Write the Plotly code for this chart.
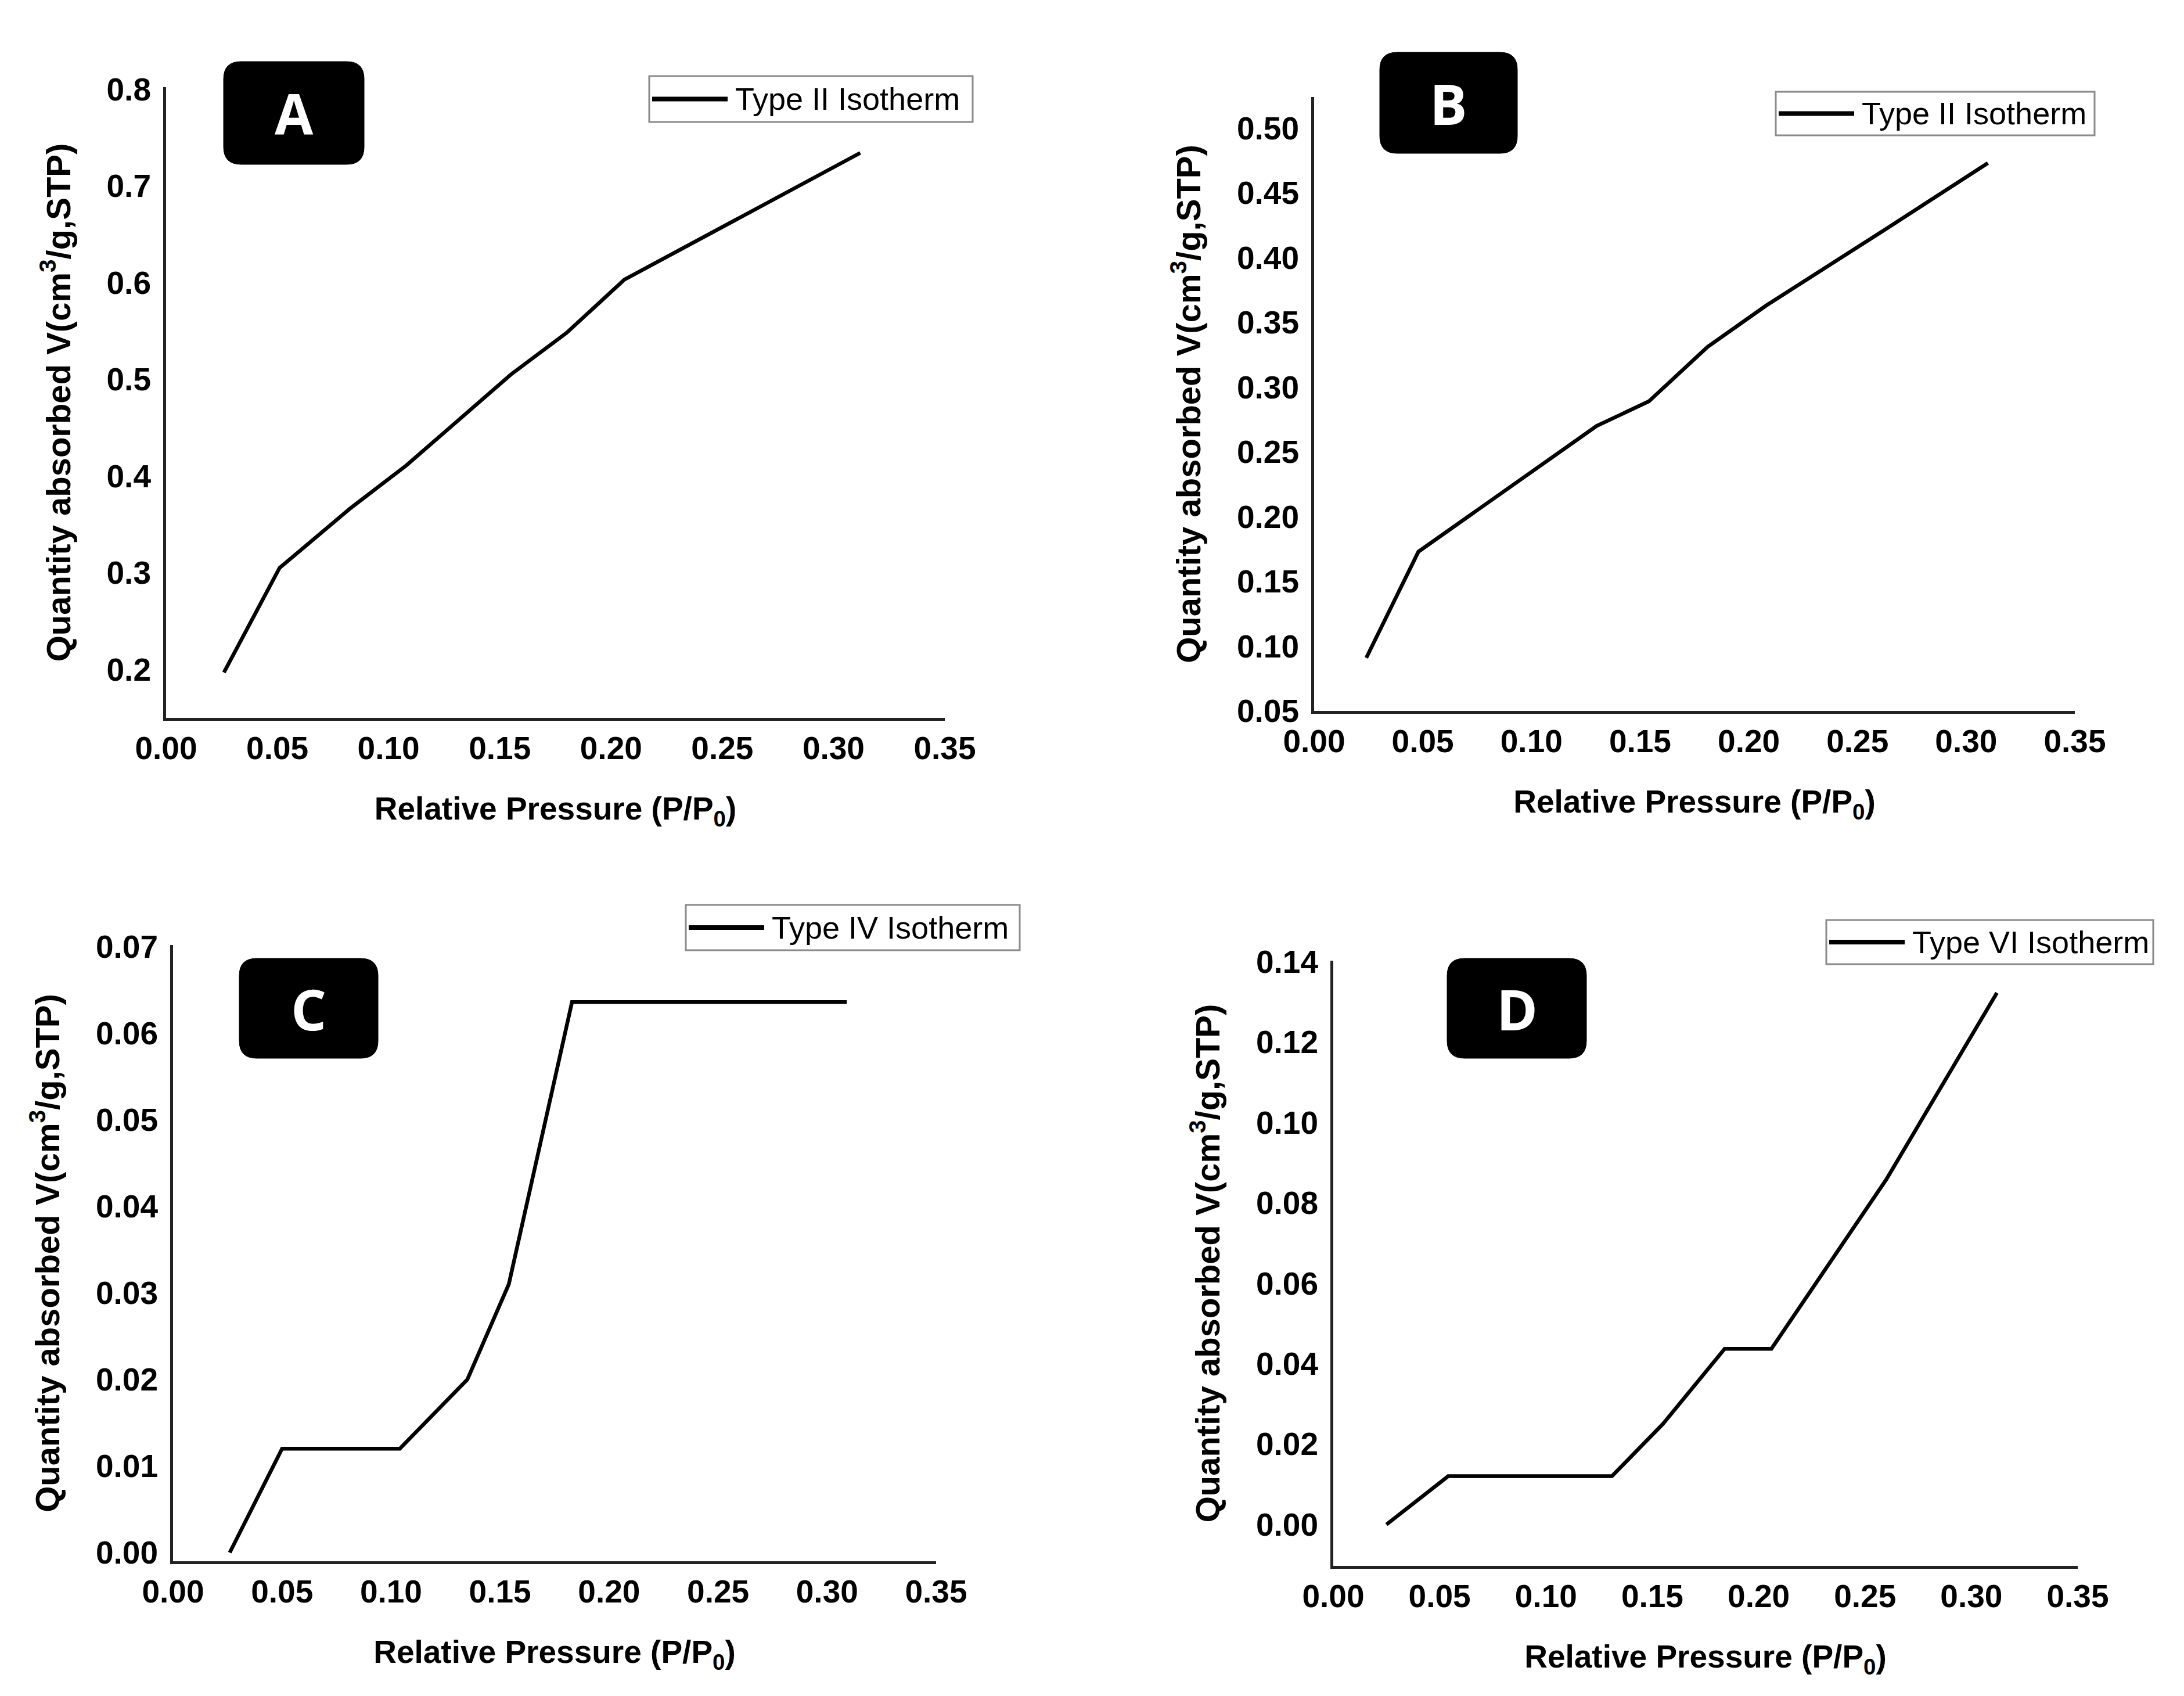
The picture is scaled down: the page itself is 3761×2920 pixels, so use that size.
import plotly.graph_objects as go

# ---------------- data ----------------
x_ticks = [0.00, 0.05, 0.10, 0.15, 0.20, 0.25, 0.30, 0.35]

a_x = [0.026, 0.051, 0.083, 0.108, 0.155, 0.180, 0.206, 0.264, 0.312]
a_y = [0.197, 0.305, 0.367, 0.411, 0.505, 0.548, 0.603, 0.675, 0.734]
a_name = "Type II Isotherm"

b_x = [0.024, 0.048, 0.130, 0.154, 0.181, 0.208, 0.263, 0.310]
b_y = [0.091, 0.173, 0.270, 0.289, 0.331, 0.363, 0.422, 0.473]
b_name = "Type II Isotherm"

c_x = [0.026, 0.050, 0.104, 0.135, 0.154, 0.183, 0.309]
c_y = [0.000, 0.012, 0.012, 0.020, 0.031, 0.0636, 0.0636]
c_name = "Type IV Isotherm"

d_x = [0.025, 0.054, 0.131, 0.155, 0.184, 0.206, 0.260, 0.312]
d_y = [0.000, 0.012, 0.012, 0.025, 0.0437, 0.0437, 0.0858, 0.1322]
d_name = "Type VI Isotherm"

a_yticks = [0.2, 0.3, 0.4, 0.5, 0.6, 0.7, 0.8]
b_yticks = [0.05, 0.10, 0.15, 0.20, 0.25, 0.30, 0.35, 0.40, 0.45, 0.50]
c_yticks = [0.00, 0.01, 0.02, 0.03, 0.04, 0.05, 0.06, 0.07]
d_yticks = [0.00, 0.02, 0.04, 0.06, 0.08, 0.10, 0.12, 0.14]

panel_letters = ["A", "B", "C", "D"]
x_title = "Relative Pressure (P/P<sub>0</sub>)"
y_title = "Quantity absorbed V(cm<sup>3</sup>/g,STP)"

# ---------------- layout helpers ----------------
W, H = 3761, 2920
OFF = 8  # page body margin


def px(x):
    return (x - OFF) / W


def py(y):
    return 1 - (y - OFF) / H


panels = [
    dict(x=a_x, y=a_y, name=a_name, yt=a_yticks, fmt=".1f", yr=[0.15, 0.802],
         xd=(286, 1627), yd=(150, 1236), leg=(1118, 131, 1675, 210), lab=(385, 106, 627, 283)),
    dict(x=b_x, y=b_y, name=b_name, yt=b_yticks, fmt=".2f", yr=[0.05, 0.524],
         xd=(2263, 3573), yd=(167, 1224), leg=(3058, 158, 3607, 233), lab=(2376, 90, 2613, 264)),
    dict(x=c_x, y=c_y, name=c_name, yt=c_yticks, fmt=".2f", yr=[-0.001, 0.0702],
         xd=(298, 1612), yd=(1627, 2688), leg=(1181, 1558, 1756, 1636), lab=(412, 1650, 651, 1822)),
    dict(x=d_x, y=d_y, name=d_name, yt=d_yticks, fmt=".2f", yr=[-0.0103, 0.1402],
         xd=(2296, 3578), yd=(1654, 2696), leg=(3145, 1584, 3708, 1660), lab=(2492, 1650, 2732, 1822)),
]

FONT = "Liberation Sans, Arial, sans-serif"
AX_COLOR = "#222222"

fig = go.Figure()
shapes = []
annotations = []


def rounded_rect(x0, y0, x1, y1, r):
    p = [
        f"M {px(x0 + r)},{py(y0)}",
        f"L {px(x1 - r)},{py(y0)}",
        f"Q {px(x1)},{py(y0)} {px(x1)},{py(y0 + r)}",
        f"L {px(x1)},{py(y1 - r)}",
        f"Q {px(x1)},{py(y1)} {px(x1 - r)},{py(y1)}",
        f"L {px(x0 + r)},{py(y1)}",
        f"Q {px(x0)},{py(y1)} {px(x0)},{py(y1 - r)}",
        f"L {px(x0)},{py(y0 + r)}",
        f"Q {px(x0)},{py(y0)} {px(x0 + r)},{py(y0)}",
        "Z",
    ]
    return " ".join(p)


for i, p in enumerate(panels, start=1):
    xa = "x" if i == 1 else f"x{i}"
    ya = "y" if i == 1 else f"y{i}"
    fig.add_trace(go.Scatter(
        x=p["x"], y=p["y"], mode="lines", name=p["name"],
        line=dict(color="black", width=6.5),
        xaxis=xa, yaxis=ya, showlegend=False,
    ))
    xkey = "xaxis" if i == 1 else f"xaxis{i}"
    ykey = "yaxis" if i == 1 else f"yaxis{i}"
    fig.layout[xkey] = dict(
        domain=[px(p["xd"][0]), px(p["xd"][1])],
        anchor=ya, range=[0, 0.35], automargin=False,
        tickvals=x_ticks, tickformat=".2f",
        showline=True, linecolor=AX_COLOR, linewidth=5,
        showgrid=False, zeroline=False, ticks="",
        ticklabelstandoff=0,
        tickfont=dict(family=FONT, size=55, color="black", weight="bold"),
        title=dict(text=x_title, standoff=56,
                   font=dict(family=FONT, size=55, color="black", weight="bold")),
    )
    fig.layout[ykey] = dict(
        domain=[py(p["yd"][1]), py(p["yd"][0])],
        anchor=xa, range=p["yr"], automargin=False,
        tickvals=p["yt"], tickformat=p["fmt"],
        showline=True, linecolor=AX_COLOR, linewidth=5,
        showgrid=False, zeroline=False, ticks="",
        ticklabelstandoff=10,
        tickfont=dict(family=FONT, size=55, color="black", weight="bold"),
        title=dict(text=y_title, standoff=45,
                   font=dict(family=FONT, size=58, color="black", weight="bold")),
    )

    # legend box (drawn manually to match the long line sample)
    lx0, ly0, lx1, ly1 = p["leg"]
    shapes.append(dict(type="rect", xref="paper", yref="paper",
                       x0=px(lx0), x1=px(lx1), y0=py(ly1), y1=py(ly0),
                       line=dict(color="#8a8a8a", width=3), fillcolor="white"))
    ymid = (ly0 + ly1) / 2
    shapes.append(dict(type="line", xref="paper", yref="paper",
                       x0=px(lx0 + 5), x1=px(lx0 + 135), y0=py(ymid), y1=py(ymid),
                       line=dict(color="black", width=8)))
    annotations.append(dict(text=p["name"], xref="paper", yref="paper",
                            x=px(lx0 + 146), y=py(ymid), xanchor="left", yanchor="middle",
                            showarrow=False,
                            font=dict(family=FONT, size=54, color="black")))

    # panel letter box
    bx0, by0, bx1, by1 = p["lab"]
    shapes.append(dict(type="path", xref="paper", yref="paper",
                       path=rounded_rect(bx0, by0, bx1, by1, 30),
                       fillcolor="black", line=dict(color="black", width=1)))
    annotations.append(dict(text=panel_letters[i - 1], xref="paper", yref="paper",
                            x=px((bx0 + bx1) / 2), y=py((by0 + by1) / 2),
                            xanchor="center", yanchor="middle", showarrow=False,
                            font=dict(family="Open Sans, DejaVu Sans, sans-serif", size=96,
                                      color="white", weight="bold")))

fig.update_layout(
    template="none",
    width=W, height=H,
    margin=dict(l=0, r=0, t=0, b=0),
    paper_bgcolor="white", plot_bgcolor="white",
    shapes=shapes, annotations=annotations,
    showlegend=False,
)

fig.write_html("out.html")
